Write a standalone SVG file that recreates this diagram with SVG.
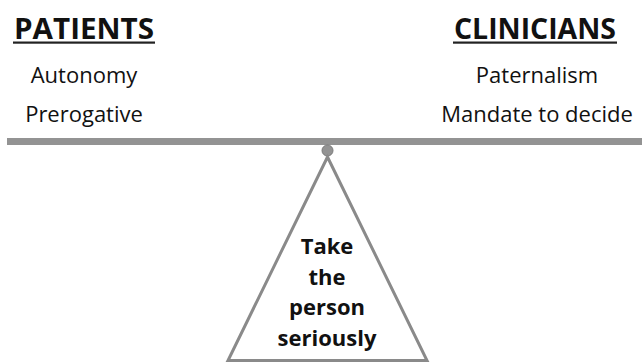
<svg xmlns="http://www.w3.org/2000/svg" width="642" height="363" viewBox="0 0 642 363">
<style>
.h{font-family:"Open Sans","Liberation Sans",sans-serif;font-weight:bold;font-size:29px;fill:#111;text-anchor:middle}
.t{font-family:"Open Sans","Liberation Sans",sans-serif;font-size:22px;fill:#111;text-anchor:middle}
.b{font-family:"Open Sans","Liberation Sans",sans-serif;font-weight:bold;font-size:22px;fill:#111;text-anchor:middle}
.g{fill:#939393}
</style>
<rect width="642" height="363" fill="#fff"/>
<g id="patients">
<text class="h" x="84" y="39" textLength="140" lengthAdjust="spacingAndGlyphs">PATIENTS</text>
<rect x="13" y="41.5" width="142" height="2.2" fill="#222"/>
<text class="t" x="84" y="83">Autonomy</text>
<text class="t" x="84" y="122">Prerogative</text>
</g>
<g id="clinicians">
<text class="h" x="535" y="39" textLength="162" lengthAdjust="spacingAndGlyphs">CLINICIANS</text>
<rect x="453" y="41.5" width="164" height="2.2" fill="#222"/>
<text class="t" x="537" y="83">Paternalism</text>
<text class="t" x="537" y="122">Mandate to decide</text>
</g>
<g id="beam">
<rect class="g" x="7" y="138" width="635" height="7"/>
<circle cx="327.5" cy="150.5" r="5.5" fill="#939393" stroke="#7a7a7a" stroke-width="1"/>
</g>
<g id="fulcrum">
<polygon points="327.5,157 228,360.5 427,360.5" fill="#fff" stroke="#8a8a8a" stroke-width="3" stroke-linejoin="miter"/>
<text class="b" x="327" y="254">Take</text>
<text class="b" x="327" y="285">the</text>
<text class="b" x="327" y="315">person</text>
<text class="b" x="327" y="346">seriously</text>
</g>
</svg>
